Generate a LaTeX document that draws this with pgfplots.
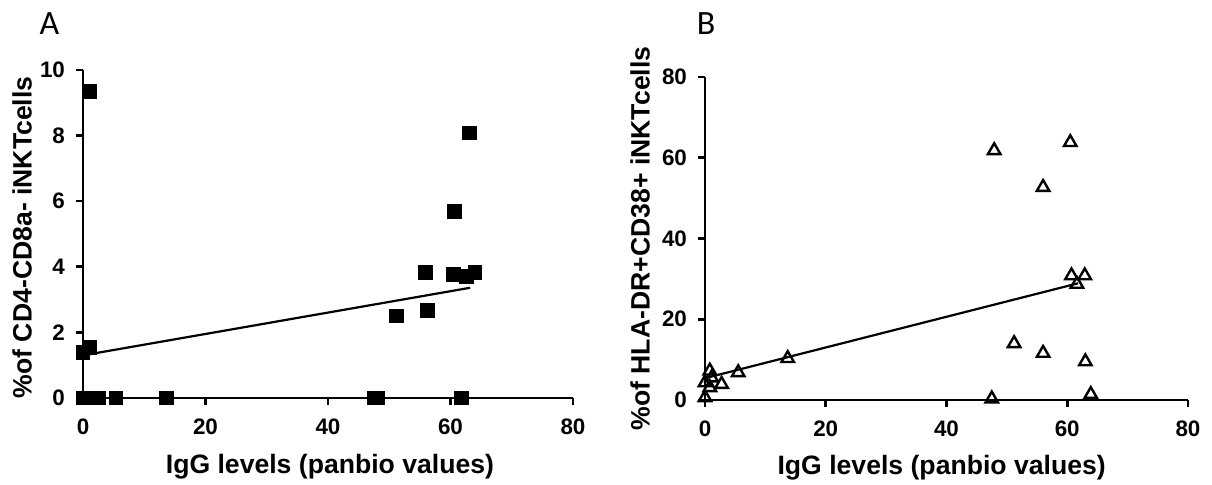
\documentclass[border=0pt]{standalone}
\usepackage{fontspec}
\setmainfont{Liberation Sans}
\newfontfamily\letterfont{Carlito}
\usepackage{pgfplots}
\pgfplotsset{compat=1.18}
\pgfplotsset{
  gp/.style={
    scale only axis,
    anchor=south west,
    axis lines=left,
    axis line style={-, line width=1.3pt},
    tick align=outside,
    major tick length=3.5pt,
    tick style={line width=1.3pt, black},
    xmin=0, xmax=80,
    xtick={0,20,40,60,80},
    clip=false,
    /pgf/number format/assume math mode=true,
    ticklabel style={font=\bfseries\fontsize{11.2}{12}\selectfont},
    xticklabel style={yshift=-3.5pt},
    yticklabel style={xshift=-2pt},
    label style={font=\bfseries\fontsize{13.3}{15}\selectfont},
    xlabel={IgG levels (panbio values)},
  }
}
\begin{document}
\begin{tikzpicture}
\path[use as bounding box] (0,0) rectangle (606pt,242.5pt);
% Panel A
\begin{axis}[gp,
  at={(41.5pt,43.5pt)}, width=245pt, height=164pt,
  ymin=0, ymax=10, ytick={0,2,4,6,8,10},
  xlabel style={at={(axis description cs:0.504,-0.229)}, anchor=base},
  ylabel={\%of CD4-CD8a- iNKTcells},
  ylabel style={at={(axis description cs:-0.1245,0.49)}, anchor=center},
]
\addplot[only marks, mark=square*, mark size=3.4pt, black, mark options={line width=0pt}] coordinates {
(0,1.39) (0,0) (1.1,9.34) (1.1,1.54) (1.1,0) (2.5,0) (5.4,0) (13.6,0)
(47.5,0) (48.1,0) (51.2,2.5) (56.2,2.66) (55.9,3.83) (60.7,5.69)
(60.5,3.77) (61.8,0) (63.1,8.08) (62.6,3.70) (64,3.83)
};
\addplot[black, line width=1.1pt] coordinates {(0,1.3) (63.2,3.36)};
\end{axis}
% Panel B
\begin{axis}[gp,
  at={(352.5pt,42.5pt)}, width=241.5pt, height=161.5pt,
  ymin=0, ymax=80, ytick={0,20,40,60,80},
  xlabel style={at={(axis description cs:0.49,-0.232)}, anchor=base},
  ylabel={\%of HLA-DR+CD38+ iNKTcells},
  ylabel style={at={(axis description cs:-0.1345,0.50)}, anchor=center},
]
\addplot[only marks, mark=triangle, mark size=3.6pt, black, mark options={line width=1.2pt}] coordinates {
(0,0.6) (0,4.3) (0.8,3.1) (0.8,7.2) (1.1,5.5) (2.75,3.9) (5.5,6.8) (13.7,10.3)
(47.5,0.3) (47.9,61.8) (51.2,14) (56,52.7) (56,11.6) (60.5,63.8)
(60.7,30.8) (61.6,28.7) (62.9,30.8) (63,9.5) (63.9,1.4)
};
\addplot[black, line width=1.1pt] coordinates {(0,5.4) (61.8,28.9)};
\end{axis}
\node[font=\letterfont\fontsize{17}{19}\selectfont] at (24.75pt,230.5pt) {A};
\node[font=\letterfont\fontsize{17}{19}\selectfont] at (353pt,230.75pt) {B};
\end{tikzpicture}
\end{document}
